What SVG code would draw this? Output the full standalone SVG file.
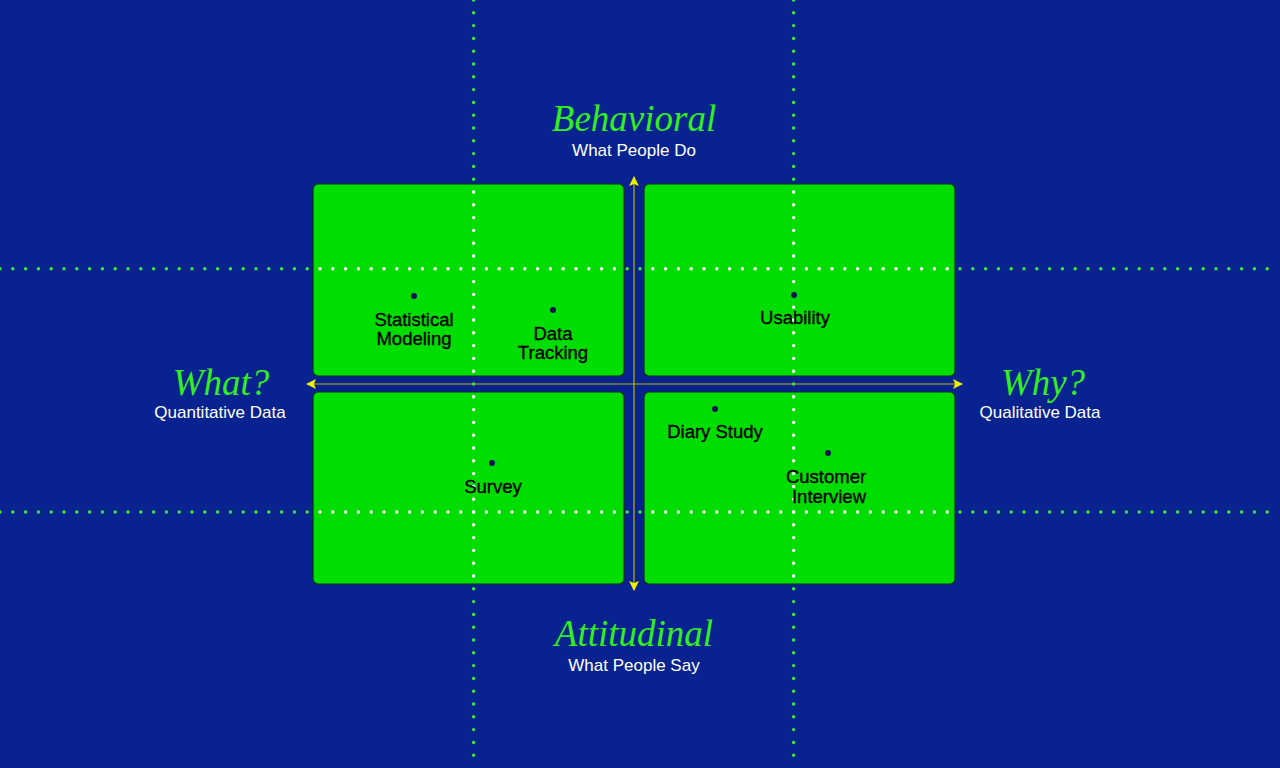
<svg xmlns="http://www.w3.org/2000/svg" width="1280" height="768" viewBox="0 0 1280 768">
<style>
.bg{fill:#08238F}
.quad{fill:#00DD00;stroke:#063018;stroke-width:1.2}
.grid{stroke-width:3.4;stroke-linecap:round;stroke-dasharray:0 12.8;fill:none}
.g{stroke:#33EE33}
.w{stroke:#FFFFFF}
.axis{stroke:#B8B800;stroke-width:1.2;fill:none}
.title{font-family:"Liberation Serif",serif;font-style:italic;font-size:37px;fill:#33EE22;text-anchor:middle}
.sub{font-family:"Liberation Sans",Arial,sans-serif;font-size:17px;fill:#FFFFFF;text-anchor:middle}
.lbl{font-family:"Liberation Sans",Arial,sans-serif;font-size:18.5px;fill:#000;stroke:#000;stroke-width:0.35;text-anchor:middle}
.dot{fill:#0A1450}
</style>
<defs>
<marker id="arr" viewBox="0 0 10 10" refX="9" refY="5" markerWidth="10" markerHeight="10" markerUnits="userSpaceOnUse" orient="auto-start-reverse">
<path d="M0,0 L10,5 L0,10 L2,5 Z" fill="#EEEE00"/>
</marker>
<clipPath id="qclip">
<rect x="313" y="184" width="311" height="192" rx="5"/>
<rect x="644" y="184" width="311" height="192" rx="5"/>
<rect x="313" y="392" width="311" height="192" rx="5"/>
<rect x="644" y="392" width="311" height="192" rx="5"/>
</clipPath>
</defs>
<rect class="bg" x="0" y="0" width="1280" height="768"/>
<g id="quadrants">
<rect id="q-tl" class="quad" x="313" y="184" width="311" height="192" rx="5"/>
<rect id="q-tr" class="quad" x="644" y="184" width="311" height="192" rx="5"/>
<rect id="q-bl" class="quad" x="313" y="392" width="311" height="192" rx="5"/>
<rect id="q-br" class="quad" x="644" y="392" width="311" height="192" rx="5"/>
</g>
<g id="grid-lines">
<g class="grid g">
<line x1="0" y1="268.8" x2="1280" y2="268.8"/>
<line x1="0" y1="512" x2="1280" y2="512"/>
<line x1="473.6" y1="0" x2="473.6" y2="768"/>
<line x1="793.6" y1="0" x2="793.6" y2="768"/>
</g>
<g class="grid w" clip-path="url(#qclip)">
<line x1="0" y1="268.8" x2="1280" y2="268.8"/>
<line x1="0" y1="512" x2="1280" y2="512"/>
<line x1="473.6" y1="0" x2="473.6" y2="768"/>
<line x1="793.6" y1="0" x2="793.6" y2="768"/>
</g>
</g>
<g id="connectors">
<line class="axis" x1="634" y1="590" x2="634" y2="177" marker-end="url(#arr)" marker-start="url(#arr)"/>
<line class="axis" x1="307" y1="384" x2="962" y2="384" marker-end="url(#arr)" marker-start="url(#arr)"/>
</g>
<g id="behavioral">
<text class="title" x="634" y="131">Behavioral</text>
<text class="sub" x="634" y="156">What People Do</text>
</g>
<g id="attitudinal">
<text class="title" x="634" y="646">Attitudinal</text>
<text class="sub" x="634" y="671">What People Say</text>
</g>
<g id="what">
<text class="title" x="221" y="395">What?</text>
<text class="sub" x="220" y="418">Quantitative Data</text>
</g>
<g id="why">
<text class="title" x="1043" y="395">Why?</text>
<text class="sub" x="1040" y="418">Qualitative Data</text>
</g>
<g id="statistical-modeling">
<circle class="dot" cx="414" cy="296" r="3"/>
<text class="lbl" x="414" y="326">Statistical</text>
<text class="lbl" x="414" y="345">Modeling</text>
</g>
<g id="data-tracking">
<circle class="dot" cx="553" cy="310" r="3"/>
<text class="lbl" x="553" y="340">Data</text>
<text class="lbl" x="553" y="359">Tracking</text>
</g>
<g id="usability">
<circle class="dot" cx="794" cy="295" r="3"/>
<text class="lbl" x="795" y="324">Usability</text>
</g>
<g id="survey">
<circle class="dot" cx="492" cy="463" r="3"/>
<text class="lbl" x="493" y="493">Survey</text>
</g>
<g id="diary-study">
<circle class="dot" cx="715" cy="409" r="3"/>
<text class="lbl" x="715" y="438">Diary Study</text>
</g>
<g id="customer-interview">
<circle class="dot" cx="828" cy="453" r="3"/>
<text class="lbl" x="826" y="483">Customer</text>
<text class="lbl" x="829" y="503">Interview</text>
</g>
</svg>
